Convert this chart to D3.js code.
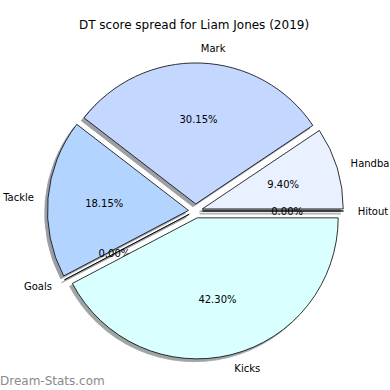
<!DOCTYPE html>
<html>
<head>
<meta charset="utf-8">
<script src="https://cdn.jsdelivr.net/npm/d3@7"></script>
<style>
  body { margin: 0; background: #fff; }
  text { font-family: "DejaVu Sans", sans-serif; }
</style>
</head>
<body>
<div id="chart"></div>
<script>
var svgWidth = 390;
var svgHeight = 390;

// wedge order follows the original (counter-clockwise from 3 o'clock)
var categories = ["Handball", "Mark", "Tackle", "Goals", "Kicks", "Hitout"];
var shares = [9.40, 30.15, 18.15, 0.00, 42.30, 0.00];
var colors = ["#e9f0ff", "#c3d7ff", "#b3d4ff", "#b3d4ff", "#d9ffff", "#e9f0ff"];

var center = { x: 195.5, y: 211 };
var radius = 141;
var explode = 0.05;
var labelDistance = 1.1;
var pctDistance = 0.6;

var svg = d3.select("#chart")
    .append("svg")
    .attr("width", svgWidth)
    .attr("height", svgHeight);

svg.append("text")
    .attr("x", 194)
    .attr("y", 29)
    .attr("text-anchor", "middle")
    .style("font-size", "12px")
    .text("DT score spread for Liam Jones (2019)");

// counter-clockwise pie starting at 3 o'clock
var pie = d3.pie()
    .sort(null)
    .value(d => d.value)
    .startAngle(Math.PI / 2)
    .endAngle(Math.PI / 2 - 2 * Math.PI);

var data = categories.map((c, i) => ({ name: c, value: shares[i], color: colors[i] }));
var arcs = pie(data);

var arc = d3.arc().innerRadius(0).outerRadius(radius);

function midAngle(d) { return (d.startAngle + d.endAngle) / 2; }
function offset(d, dist) {
    var a = midAngle(d);
    return [Math.sin(a) * dist, -Math.cos(a) * dist];
}
function shadowColor(d) {
    var c = d3.rgb(d.data.color);
    return d3.rgb(c.r * 0.3, c.g * 0.3, c.b * 0.3).formatHex();
}

var chartGroup = svg.append("g")
    .attr("transform", `translate(${center.x}, ${center.y})`);

var slices = chartGroup.selectAll("g.slice")
    .data(arcs)
    .enter()
    .append("g")
    .attr("class", "slice")
    .attr("transform", d => {
        var o = offset(d, explode * radius);
        return `translate(${o[0]}, ${o[1]})`;
    });

// shadow: darkened face colour, shifted left and down
slices.append("path")
    .attr("d", arc)
    .attr("transform", `translate(${-0.02 * radius}, ${0.02 * radius})`)
    .attr("fill", shadowColor)
    .attr("stroke", shadowColor)
    .attr("stroke-width", 0.8)
    .attr("opacity", 0.5);

slices.append("path")
    .attr("d", arc)
    .attr("fill", d => d.data.color)
    .attr("stroke", "#000")
    .attr("stroke-width", 0.8)
    .attr("stroke-linejoin", "round");

// outer labels, aligned like matplotlib (left if on right side)
slices.append("text")
    .attr("x", d => offset(d, labelDistance * radius)[0])
    .attr("y", d => offset(d, labelDistance * radius)[1])
    .attr("dy", "0.35em")
    .attr("text-anchor", d => offset(d, 1)[0] > 0 ? "start" : "end")
    .style("font-size", "10px")
    .text(d => d.data.name);

slices.append("text")
    .attr("x", d => offset(d, pctDistance * radius)[0])
    .attr("y", d => offset(d, pctDistance * radius)[1])
    .attr("dy", "0.35em")
    .attr("text-anchor", "middle")
    .style("font-size", "10px")
    .text(d => d.data.value.toFixed(2) + "%");

svg.append("text")
    .attr("x", 0)
    .attr("y", 385)
    .style("font-size", "12px")
    .attr("fill", "#8a8a8a")
    .text("Dream-Stats.com");
</script>
</body>
</html>
